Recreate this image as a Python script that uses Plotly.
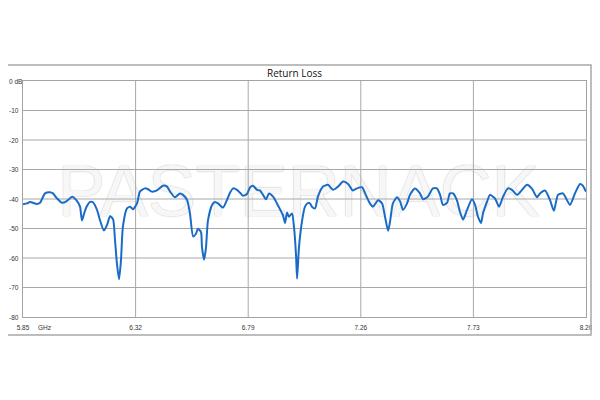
import plotly.graph_objects as go

# Frequency (GHz) and return loss (dB)
freq_ghz = [5.850, 5.867, 5.879, 5.908, 5.921, 5.942, 5.963, 5.975, 5.992, 6.013,
            6.034, 6.055, 6.075, 6.088, 6.096, 6.105, 6.117, 6.130, 6.142, 6.159,
            6.171, 6.188, 6.201, 6.213, 6.226, 6.234, 6.242, 6.251, 6.259, 6.267,
            6.284, 6.297, 6.309, 6.326, 6.338, 6.359, 6.372, 6.388, 6.409, 6.434,
            6.451, 6.464, 6.484, 6.505, 6.518, 6.535, 6.547, 6.560, 6.572, 6.580,
            6.593, 6.597, 6.606, 6.614, 6.622, 6.639, 6.651, 6.664, 6.685, 6.701,
            6.714, 6.727, 6.743, 6.756, 6.768, 6.785, 6.798, 6.810, 6.827, 6.839,
            6.852, 6.864, 6.877, 6.894, 6.910, 6.923, 6.935, 6.944, 6.952, 6.960,
            6.973, 6.981, 6.990, 6.994, 7.002, 7.015, 7.027, 7.040, 7.048, 7.056,
            7.069, 7.081, 7.102, 7.123, 7.144, 7.165, 7.186, 7.207, 7.227, 7.244,
            7.265, 7.278, 7.298, 7.311, 7.332, 7.349, 7.361, 7.374, 7.382, 7.394,
            7.411, 7.424, 7.436, 7.453, 7.465, 7.486, 7.507, 7.520, 7.540, 7.561,
            7.578, 7.591, 7.603, 7.620, 7.632, 7.645, 7.661, 7.674, 7.687, 7.703,
            7.724, 7.737, 7.749, 7.762, 7.770, 7.787, 7.799, 7.820, 7.837, 7.854,
            7.874, 7.891, 7.912, 7.933, 7.954, 7.975, 7.995, 8.008, 8.029, 8.050,
            8.066, 8.083, 8.104, 8.133, 8.154, 8.175, 8.187, 8.200]
return_loss_db = [-41.8, -41.5, -41.0, -41.7, -41.3, -38.1, -37.7, -38.1, -39.8, -41.3,
                  -40.6, -39.2, -40.6, -42.6, -47.3, -44.9, -42.4, -41.0, -41.1, -43.7,
                  -47.1, -50.7, -48.8, -45.8, -46.9, -53.9, -61.8, -67.2, -60.7, -49.4,
                  -43.2, -42.6, -43.5, -41.5, -37.5, -36.4, -36.7, -37.5, -37.1, -35.5,
                  -35.8, -37.5, -39.4, -38.1, -38.6, -40.4, -44.9, -52.7, -51.8, -50.1,
                  -51.2, -56.3, -60.6, -56.3, -47.3, -42.0, -41.0, -41.5, -42.9, -40.4,
                  -37.9, -36.4, -36.9, -37.9, -38.9, -38.3, -36.0, -35.5, -36.9, -37.1,
                  -38.6, -40.1, -38.1, -39.2, -41.5, -43.5, -45.5, -48.1, -44.6, -46.0,
                  -44.9, -49.4, -59.6, -67.0, -56.3, -47.3, -42.6, -41.3, -41.5, -42.6,
                  -43.2, -39.2, -35.8, -35.2, -36.9, -35.8, -34.1, -34.9, -37.1, -36.4,
                  -36.0, -38.1, -41.5, -42.6, -40.4, -41.5, -46.0, -50.8, -47.7, -41.5,
                  -39.4, -40.8, -43.7, -41.5, -38.6, -36.4, -38.1, -40.1, -39.2, -36.4,
                  -36.4, -38.6, -42.0, -41.3, -38.1, -38.1, -40.4, -44.4, -47.0, -43.8,
                  -40.1, -42.0, -46.0, -48.1, -44.9, -40.9, -38.6, -39.8, -42.6, -39.2,
                  -36.4, -36.9, -38.6, -36.9, -35.2, -36.6, -39.4, -38.1, -37.1, -40.4,
                  -44.0, -38.6, -38.1, -42.0, -38.1, -34.9, -35.5, -37.5]

x_tick_vals = [5.85, 6.32, 6.79, 7.26, 7.73, 8.20]
x_tick_text = ["5.85", "6.32", "6.79", "7.26", "7.73", "8.20"]
y_tick_vals = [0, -10, -20, -30, -40, -50, -60, -70, -80]
y_tick_text = ["0 dB", "-10", "-20", "-30", "-40", "-50", "-60", "-70", "-80"]
title_text = "Return Loss"
unit_text = "GHz"
watermark_text = "PASTERNACK"

x_min, x_max = x_tick_vals[0], x_tick_vals[-1]
y_min, y_max = y_tick_vals[-1], y_tick_vals[0]

fig = go.Figure()

# Watermark drawn as a text trace beneath the grid and the data line
fig.add_trace(go.Scatter(
    x=[7.0], y=[-39.7], mode="text", text=[watermark_text],
    textposition="middle center",
    textfont=dict(family="Liberation Sans, Arial", size=72, color="#f7f7f7",
                  shadow="0px 0px 1.2px #aaaaaa"),
    hoverinfo="skip", showlegend=False,
))

# Grid lines at the tick values, drawn over the watermark
grid_x, grid_y = [], []
for v in x_tick_vals[1:-1]:
    grid_x += [v, v, None]
    grid_y += [y_min, y_max, None]
for v in y_tick_vals[1:-1]:
    grid_x += [x_min, x_max, None]
    grid_y += [v, v, None]
fig.add_trace(go.Scatter(
    x=grid_x, y=grid_y, mode="lines",
    line=dict(color="#a8a8a8", width=1),
    hoverinfo="skip", showlegend=False,
))

fig.add_trace(go.Scatter(
    x=freq_ghz, y=return_loss_db, mode="lines",
    line=dict(color="#1a6bc6", width=2, shape="spline", smoothing=0.6),
    showlegend=False,
))

label_font = dict(family="Liberation Sans, Arial", size=6.5, color="#333333")
annotations = []
for v, t in zip(y_tick_vals, y_tick_text):
    annotations.append(dict(x=-0.028, y=v, xref="paper", yref="y", text=t,
                            showarrow=False, xanchor="left", yanchor="middle",
                            font=label_font))
annotations.append(dict(x=5.94, y=0, xref="x", yref="paper", text=unit_text,
                        showarrow=False, xanchor="center", yanchor="top", yshift=-5,
                        font=label_font))
annotations.append(dict(x=0.483, y=1.035, xref="paper", yref="paper", text=title_text,
                        showarrow=False, xanchor="center", yanchor="middle",
                        font=dict(family="Open Sans", size=10, color="#111111")))

# Outer frame (its left edge lies outside the drawable page area)
shapes = [
    dict(type="rect", xref="paper", yref="paper", x0=-0.0355, x1=1.0089,
         y0=-0.076, y1=1.068, line=dict(color="#a8a8a8", width=1.5), layer="above"),
]

# The page body adds an 8px offset, so the figure is 8px smaller on each axis
fig.update_layout(
    width=592, height=392,
    margin=dict(l=15, r=14, t=73, b=83),
    paper_bgcolor="white", plot_bgcolor="white",
    annotations=annotations, shapes=shapes,
    xaxis=dict(range=[x_min, x_max], tickvals=x_tick_vals, ticktext=x_tick_text,
               showgrid=False,
               showline=True, linecolor="#a3a3a3", linewidth=1, mirror=True,
               ticks="outside", ticklen=4, tickcolor="rgba(0,0,0,0)",
               tickfont=label_font,
               zeroline=False, fixedrange=True, automargin=False),
    yaxis=dict(range=[y_min, y_max], tickvals=y_tick_vals, showticklabels=False,
               showgrid=False,
               showline=True, linecolor="#a3a3a3", linewidth=1, mirror=True,
               zeroline=False, fixedrange=True, automargin=False),
)

fig.write_html("out.html")
